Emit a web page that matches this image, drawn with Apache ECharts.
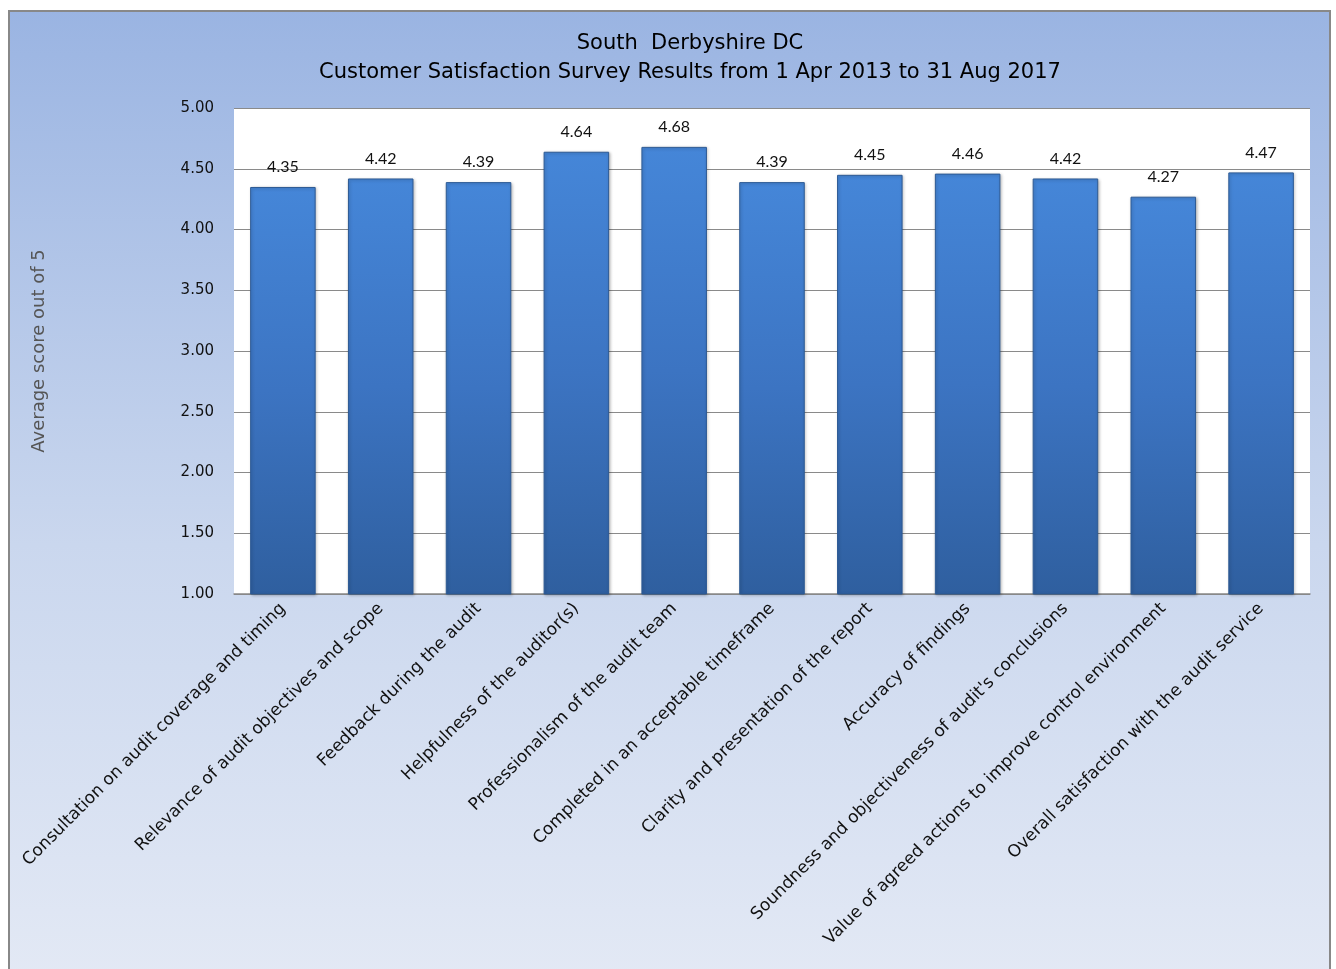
<!DOCTYPE html>
<html>
<head>
<meta charset="utf-8">
<title>South Derbyshire DC - Customer Satisfaction</title>
<script src="https://cdn.jsdelivr.net/npm/echarts@6/dist/echarts.min.js"></script>
<style>
  html, body { margin: 0; padding: 0; background: #fff; }
  #chart { width: 1336px; height: 969px; }
</style>
</head>
<body>
<div id="chart"></div>
<script>
var categories = [
  'Consultation on audit coverage and timing',
  'Relevance of audit objectives and scope',
  'Feedback during the audit',
  'Helpfulness of the auditor(s)',
  'Professionalism of the audit team',
  'Completed in an acceptable timeframe',
  'Clarity and presentation of the report',
  'Accuracy of findings',
  "Soundness and objectiveness of audit's conclusions",
  'Value of agreed actions to improve control environment',
  'Overall satisfaction with the audit service'
];
var scores = [4.35, 4.42, 4.39, 4.64, 4.68, 4.39, 4.45, 4.46, 4.42, 4.27, 4.47];
var yTicks = [1, 1.5, 2, 2.5, 3, 3.5, 4, 4.5, 5];

var wideFont = '"DejaVu Sans", sans-serif';
var labelFont = 'Lato, "Liberation Sans", sans-serif';

init();

function init(){
  var myChart = echarts.init(document.getElementById('chart'));
  var option = {
    animation: false,
    textStyle: { fontFamily: wideFont },
    graphic: [{
      type: 'rect',
      z: -100,
      silent: true,
      shape: { x: 9, y: 11, width: 1321, height: 970 },
      style: {
        fill: new echarts.graphic.LinearGradient(0, 0, 0, 1, [
          { offset: 0, color: '#9ab4e2' },
          { offset: 0.55, color: '#cad7ee' },
          { offset: 1, color: '#e3e9f5' }
        ]),
        stroke: '#888888',
        lineWidth: 2
      }
    }],
    title: {
      text: 'South  Derbyshire DC\nCustomer Satisfaction Survey Results from 1 Apr 2013 to 31 Aug 2017',
      left: 685,
      top: 24,
      textAlign: 'center',
      textStyle: {
        fontFamily: wideFont,
        fontSize: 21,
        fontWeight: 'normal',
        color: '#000',
        lineHeight: 29
      }
    },
    grid: {
      left: 234,
      right: 26,
      top: 108,
      bottom: 375,
      show: true,
      backgroundColor: '#ffffff',
      borderWidth: 0
    },
    xAxis: {
      type: 'category',
      data: categories,
      axisLine: { lineStyle: { color: '#888888', width: 1.5 } },
      axisTick: { show: false },
      axisLabel: {
        interval: 0,
        rotate: 45,
        fontFamily: wideFont,
        fontSize: 17,
        color: '#111',
        margin: 12
      }
    },
    yAxis: {
      type: 'value',
      min: yTicks[0],
      max: yTicks[yTicks.length - 1],
      interval: 0.5,
      name: 'Average score out of 5',
      nameLocation: 'middle',
      nameRotate: 90,
      nameGap: 186,
      nameTextStyle: { fontFamily: wideFont, fontSize: 18, color: '#555' },
      axisLine: { show: false },
      axisTick: { show: false },
      axisLabel: {
        fontFamily: wideFont,
        fontSize: 15,
        color: '#111',
        margin: 20,
        formatter: function(v){ return v.toFixed(2); }
      },
      splitLine: { lineStyle: { color: '#8a8a8a', width: 1 } }
    },
    series: [{
      type: 'bar',
      data: scores,
      barCategoryGap: '33%',
      itemStyle: {
        color: new echarts.graphic.LinearGradient(0, 0, 0, 1, [
          { offset: 0, color: '#4586d8' },
          { offset: 0.5, color: '#3c74c2' },
          { offset: 1, color: '#2f5f9f' }
        ]),
        borderColor: '#2d5a94',
        borderWidth: 1,
        shadowColor: 'rgba(0,0,0,0.25)',
        shadowBlur: 3,
        shadowOffsetX: 1,
        shadowOffsetY: 1
      },
      label: {
        show: true,
        position: 'top',
        distance: 12,
        fontFamily: labelFont,
        fontSize: 16,
        color: '#111',
        formatter: function(p){ return p.value.toFixed(2); }
      }
    }]
  };
  myChart.setOption(option);
}
</script>
</body>
</html>
